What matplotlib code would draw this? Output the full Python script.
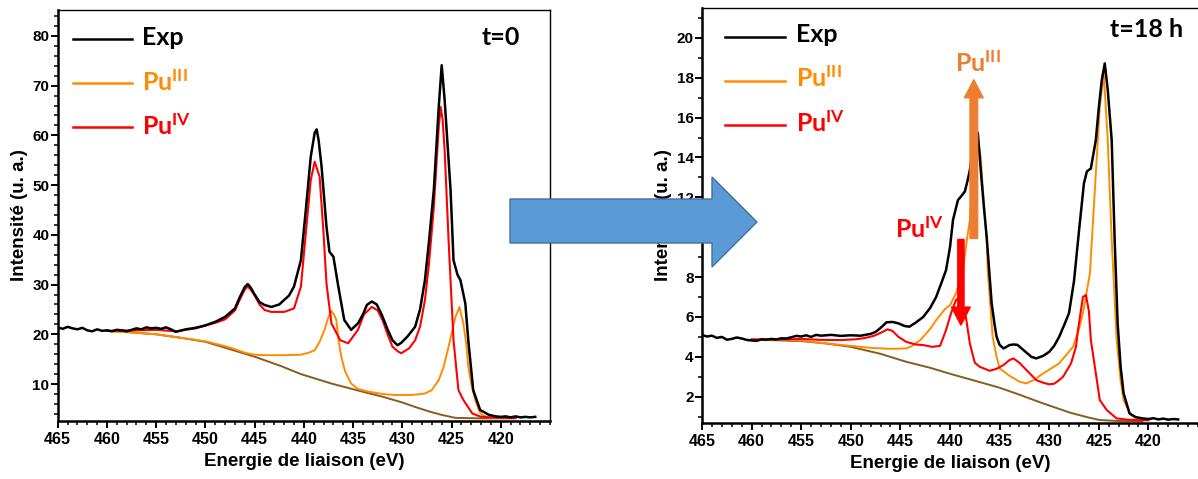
import matplotlib
matplotlib.use("Agg")
import matplotlib.pyplot as plt
from matplotlib.patches import Polygon
from matplotlib.ticker import MultipleLocator

# =====================================================
# 1) DONNEES (lues sur la figure)
# =====================================================

# --- t = 0 ---
E_exp_t0 = [465, 464.5, 464, 463.5, 463, 462.5, 462, 461.5, 461, 460.5, 460, 459.5, 459,
            458.5, 458, 457.5, 457, 456.5, 456, 455.5, 455, 454.5, 454, 453.5, 453,
            452, 451, 450, 449, 448, 447, 446.5, 446, 445.7, 445.4, 445, 444.5, 444,
            443.3, 442.5, 442, 441.5, 441, 440.3, 439.8, 439.3, 438.9, 438.7, 438.5,
            438.2, 437.7, 437.4, 437.0, 436.5, 435.9, 435.2, 434.5, 434.0, 433.6,
            433.1, 432.6, 432.1, 431.5, 431.0, 430.5, 430.1, 429.5, 428.7, 428.2,
            427.7, 427.3, 426.8, 426.3, 426.0, 425.7, 425.1, 424.8, 424.4, 424.1,
            423.6, 423.3, 422.8, 422.1, 421.2, 420.5, 420, 419.5, 419, 418.5, 418,
            417.5, 417, 416.5]
I_exp_t0 = [21.4, 21.1, 21.5, 21.2, 21.0, 21.3, 20.8, 20.6, 21.0, 20.7, 20.8, 20.6, 20.9,
            20.8, 20.6, 20.9, 21.2, 21.0, 21.4, 21.2, 21.3, 21.1, 21.4, 21.0, 20.5,
            21.0, 21.3, 21.8, 22.5, 23.5, 25.2, 27.5, 29.5, 30.1, 29.4, 28.0, 26.5, 25.9,
            25.5, 26.0, 26.9, 27.8, 29.6, 34.9, 45.0, 55.7, 60.5, 61.2, 59.0,
            53.7, 41.6, 36.6, 35.6, 29.6, 22.9, 20.9, 22.2, 24.0, 25.9,
            26.6, 26.0, 24.0, 21.0, 18.8, 17.8, 18.3, 19.5, 21.5, 25.0,
            30.9, 38.5, 49.0, 65.7, 74.1, 67.1, 49.0, 34.9, 32.0, 30.9,
            26.2, 18.8, 8.8, 4.8, 3.8, 3.5, 3.4, 3.5, 3.3, 3.5, 3.3,
            3.4, 3.3, 3.4]

E_pu3_t0 = [460, 455, 450, 448, 447, 446, 445, 444, 442, 440.3, 439.5, 438.9, 438.4,
            437.9, 437.5, 437.2, 436.9, 436.7, 436.5, 436.2, 435.8, 435.2, 434.5, 433.5,
            432, 430.8, 429, 427.7, 427, 426.3, 425.8, 425.3, 424.9, 424.6, 424.2,
            423.8, 423.5, 423.3, 423.0, 422.6, 422.2, 421.9, 421.3, 420, 418.5]
I_pu3_t0 = [20.7, 20.0, 18.6, 17.6, 17.0, 16.3, 15.9, 15.8, 15.8, 15.9, 16.3, 16.8, 18.5,
            20.9, 23.5, 24.7, 23.8, 22.9, 19.0, 15.5, 12.5, 10.1, 9.0, 8.5,
            8.0, 7.8, 7.8, 8.1, 8.8, 10.8, 13.5, 17.5, 21.0, 23.5, 25.5,
            22.2, 18.0, 13.5, 10.0, 6.8, 4.6, 3.8, 3.3, 3.2, 3.15]

E_pu4_t0 = [460, 457, 455, 453, 451, 449, 448, 447, 446.5, 446, 445.7, 445.4, 445,
            444.5, 444, 443.3, 442, 441, 440.3, 439.8, 439.3, 438.9, 438.4, 438,
            437.7, 437.2, 436.3, 435.5, 434.5, 433.9, 433.1, 432.5, 432, 431.5, 431,
            430.4, 430.1, 429.3, 428.7, 428.2, 427.7, 427.3, 426.8, 426.3, 426.1,
            425.9, 425.7, 425.3, 424.8, 424.3, 423.8, 422.9, 422, 420, 418.5]
I_pu4_t0 = [20.7, 20.8, 20.9, 20.6, 21.2, 22.3, 23.0, 24.8, 27.0, 29.0, 29.6, 29.0, 27.8,
            26.0, 24.9, 24.5, 24.5, 25.2, 29.6, 40.3, 51.0, 54.7, 51.7, 40.3,
            30.2, 22.2, 18.8, 18.2, 20.9, 24.0, 25.5, 24.8, 22.8, 20.0, 17.5,
            16.5, 16.2, 17.2, 18.8, 21.5, 26.9, 34.0, 45.6, 61.7, 65.7,
            63.0, 57.0, 38.9, 18.8, 8.8, 6.8, 4.1, 3.4, 3.2, 3.2]

E_bg_t0 = [460, 457.5, 455, 452.5, 450, 447.5, 445, 442.3, 440.3, 437.2, 434.5, 432.1,
           430, 428.7, 427.3, 426, 424.6, 422, 418.5]
I_bg_t0 = [20.7, 20.4, 20.0, 19.3, 18.5, 17.0, 15.5, 13.6, 12.0, 10.1, 8.7, 7.5,
           6.3, 5.4, 4.5, 3.8, 3.2, 3.1, 3.1]

# --- t = 18 h ---
E_exp_t18 = [465, 464.5, 464, 463.5, 463, 462.5, 462, 461.5, 461, 460.5, 460, 459.5, 459,
             458.5, 458, 457.5, 457, 456.5, 456, 455.5, 455, 454.5, 454, 453.5, 453,
             452, 451, 450, 449, 448, 447.5, 447, 446.4, 445.8, 445.2, 444.6, 444.1,
             443.5, 442.7, 442, 441.4, 440.8, 440.4, 440, 439.7, 439.2, 438.8, 438.5,
             438.2, 438.0, 437.7, 437.4, 437.2, 436.9, 436.6, 436.3, 436.0, 435.8,
             435.5, 435.3, 435.0, 434.6, 434.0, 433.6, 433.2, 432.5, 431.8, 431.3,
             430.6, 430.0, 429.5, 429.0, 428.4, 428.0, 427.5, 427.0, 426.5, 426.2,
             425.8, 425.3, 425.0, 424.7, 424.4, 424.1, 423.7, 423.4, 423.1, 422.8,
             422.5, 421.9, 421.3, 420.6, 420, 419.5, 419, 418.5, 418, 417.5, 417]
I_exp_t18 = [5.10, 5.02, 5.06, 4.95, 5.0, 4.86, 4.9, 4.97, 4.92, 4.85, 4.82, 4.8, 4.88,
             4.86, 4.9, 4.87, 4.93, 4.92, 4.98, 5.05, 5.02, 5.08, 5.0, 5.1, 5.06,
             5.1, 5.05, 5.08, 5.06, 5.15, 5.25, 5.45, 5.73, 5.75, 5.68, 5.55, 5.51,
             5.7, 6.0, 6.45, 7.0, 7.8, 8.35, 9.5, 10.86, 11.86, 12.1, 12.3,
             12.9, 13.37, 14.4, 15.1, 15.25, 13.37, 11.6, 10.0, 8.0, 6.68,
             5.6, 5.0, 4.6, 4.42, 4.59, 4.62, 4.6, 4.3, 4.0, 3.92,
             4.05, 4.25, 4.55, 5.0, 5.7, 6.2, 7.8, 10.3, 12.7, 13.3,
             13.45, 14.87, 16.5, 17.88, 18.72, 17.4, 14.87, 9.86, 5.68, 3.5,
             2.17, 1.16, 0.98, 0.91, 0.88, 0.92, 0.86, 0.9, 0.85, 0.88, 0.86]

E_pu3_t18 = [460, 458, 456, 455, 453, 451, 450, 448, 446, 444.4, 443.8, 443, 442, 441.4,
             440.5, 440, 439.4, 438.7, 438.3, 438, 437.7, 437.5, 437.2, 436.9, 436.7,
             436.3, 436.2, 435.7, 435.3, 435.0, 434.0, 433.0, 432.3, 431.5, 430.6,
             429.0, 427.6, 427.0, 426.6, 425.9, 425.4, 424.9, 424.5, 424.1, 423.7,
             423.2, 422.8, 422.5, 421.8, 421.2, 420.5, 420]
I_pu3_t18 = [4.87, 4.87, 4.85, 4.82, 4.7, 4.6, 4.55, 4.45, 4.4, 4.42, 4.55, 4.84, 5.4, 5.84,
             6.4, 6.59, 7.18, 8.35, 9.86, 10.86, 13.0, 14.2, 15.0, 14.0, 12.5,
             9.86, 8.35, 5.0, 4.0, 3.42, 3.05, 2.75, 2.67, 2.85, 3.17,
             3.67, 4.5, 5.4, 6.18, 8.18, 12.36, 16.54, 18.2, 14.87, 9.86,
             4.84, 2.8, 1.83, 1.1, 0.9, 0.85, 0.83]

E_pu4_t18 = [460, 458, 456, 455, 453, 451, 449.5, 448.5, 447.7, 447, 446.3, 445.8, 445.2,
             444.4, 443.5, 442.7, 441.8, 441.0, 440.4, 439.9, 439.4, 439.1, 438.8, 438.4,
             438.0, 437.5, 437.0, 436.0, 435.3, 434.6, 434.0, 433.6, 433.0, 432.3,
             431.3, 430.6, 430.0, 429.5, 429.0, 428.6, 427.8, 427.3, 427.1, 426.6,
             426.3, 426.0, 425.8, 425.3, 424.9, 424.2, 423.2, 422, 421, 420]
I_pu4_t18 = [4.87, 4.87, 4.88, 4.9, 4.85, 4.84, 4.88, 4.95, 5.05, 5.2, 5.38, 5.3, 5.0,
             4.75, 4.62, 4.59, 4.5, 4.55, 5.34, 6.18, 6.85, 6.95, 6.7, 6.0,
             4.67, 3.7, 3.5, 3.3, 3.4, 3.59, 3.84, 3.92, 3.7, 3.34,
             2.83, 2.7, 2.62, 2.65, 2.83, 3.0, 3.67, 4.5, 5.34, 7.0,
             7.1, 6.3, 4.84, 3.17, 1.83, 1.33, 0.91, 0.84, 0.82, 0.82]

E_bg_t18 = [460, 457.5, 455, 452.5, 450, 447, 444.4, 442, 440, 437.7, 435, 433, 430.6,
            427.9, 426, 424.9, 423, 421, 420.6]
I_bg_t18 = [4.87, 4.83, 4.79, 4.67, 4.5, 4.15, 3.75, 3.45, 3.15, 2.83, 2.45, 2.1, 1.66,
            1.2, 0.95, 0.83, 0.78, 0.77, 0.77]

# Fleches d'annotation (x, y_depart, y_arrivee) en eV / u. a.
FLECHE_PU3 = (437.6, 9.94, 17.9)
FLECHE_PU4 = (438.9, 9.89, 5.59)

XTICKS = [465, 460, 455, 450, 445, 440, 435, 430, 425, 420]

# =====================================================
# 2) STYLE
# =====================================================

plt.rcParams["font.family"] = ["Liberation Sans", "DejaVu Sans"]
plt.rcParams["font.weight"] = "bold"
plt.rcParams["mathtext.fontset"] = "custom"
plt.rcParams["mathtext.rm"] = "Lato:bold"
plt.rcParams["mathtext.it"] = "Lato:bold"
plt.rcParams["mathtext.bf"] = "Lato:bold"

C_EXP = "#000000"
C_PU3 = "#FF8C00"
C_PU4 = "#FF0000"
C_BG = "#8B5A1E"
C_FLECHE_PU3 = "#ED7D31"
FONT_TXT = "Lato"

W, H = 1198, 479


def axes_px(left, top, right, bottom):
    # boite en pixels (origine en haut a gauche) -> fractions de figure
    return [left / W, 1 - bottom / H, (right - left) / W, (bottom - top) / H]


def style_axes(ax, ylim, y_major, y_minor):
    ax.set_xlim(465, 415)
    ax.set_ylim(*ylim)
    ax.set_xticks(XTICKS)
    ax.xaxis.set_minor_locator(MultipleLocator(1))
    ax.yaxis.set_major_locator(MultipleLocator(y_major))
    ax.yaxis.set_minor_locator(MultipleLocator(y_minor))
    ax.tick_params(which="major", direction="out", length=5, width=1.4, top=False, right=False)
    ax.tick_params(which="minor", direction="out", length=3, width=1.1, top=False, right=False)
    ax.tick_params(axis="x", labelsize=11.5, pad=3)
    ax.tick_params(axis="y", labelsize=11, pad=1)
    for lab in ax.get_xticklabels() + ax.get_yticklabels():
        lab.set_fontweight("bold")
    ax.spines["left"].set_linewidth(1.8)
    ax.spines["bottom"].set_linewidth(1.8)
    ax.spines["top"].set_linewidth(1.0)
    ax.spines["right"].set_linewidth(1.0)
    ax.set_xlabel("Energie de liaison (eV)", fontsize=13.5, fontweight="bold")
    ax.set_ylabel("Intensité (u. a.)", fontsize=13.5, fontweight="bold")
    ax.xaxis.set_label_coords(0.5, -0.077)
    ax.yaxis.set_label_coords(-0.061, 0.5)


def tracer(ax, E_exp, I_exp, E3, I3, E4, I4, Eb, Ib):
    ax.plot(Eb, Ib, color=C_BG, lw=1.4, zorder=2)
    ax.plot(E3, I3, color=C_PU3, lw=1.4, zorder=3)
    ax.plot(E4, I4, color=C_PU4, lw=1.5, zorder=4)
    ax.plot(E_exp, I_exp, color=C_EXP, lw=1.8, zorder=5)


def legende(ax, x0, x1, x_txt, y_lignes, y_textes):
    labels = ["Exp", r"Pu$^{\mathrm{III}}$", r"Pu$^{\mathrm{IV}}$"]
    couleurs = [C_EXP, C_PU3, C_PU4]
    for lab, c, yl, yt in zip(labels, couleurs, y_lignes, y_textes):
        ax.plot([x0, x1], [yl, yl], color=c, lw=1.8, transform=ax.transAxes, zorder=6)
        ax.text(x_txt, yt, lab, color=c, transform=ax.transAxes, fontsize=18,
                fontweight="bold", family=FONT_TXT, va="baseline", ha="left")


# =====================================================
# 3) FIGURE
# =====================================================

fig = plt.figure(figsize=(W / 100, H / 100), dpi=100)

ax1 = fig.add_axes(axes_px(57.7, 10, 550, 421))
ax2 = fig.add_axes(axes_px(702, 8, 1198, 423))

tracer(ax1, E_exp_t0, I_exp_t0, E_pu3_t0, I_pu3_t0, E_pu4_t0, I_pu4_t0, E_bg_t0, I_bg_t0)
style_axes(ax1, (2.57, 85.2), 10, 2)
legende(ax1, 0.031, 0.151, 0.172, [0.929, 0.823, 0.716], [0.915, 0.804, 0.696])
ax1.text(0.861, 0.915, "t=0", transform=ax1.transAxes, fontsize=18, fontweight="bold",
         family=FONT_TXT, va="baseline", ha="left")

tracer(ax2, E_exp_t18, I_exp_t18, E_pu3_t18, I_pu3_t18, E_pu4_t18, I_pu4_t18, E_bg_t18, I_bg_t18)
style_axes(ax2, (0.68, 21.5), 2, 1)
ax2.spines["right"].set_visible(False)
legende(ax2, 0.046, 0.167, 0.189, [0.929, 0.825, 0.718], [0.919, 0.809, 0.702])
ax2.text(0.823, 0.929, "t=18 h", transform=ax2.transAxes, fontsize=18, fontweight="bold",
         family=FONT_TXT, va="baseline", ha="left")

# annotations Pu III / Pu IV
ax2.text(0.510, 0.8465, r"Pu$^{\mathrm{III}}$", transform=ax2.transAxes, color=C_FLECHE_PU3,
         fontsize=18, fontweight="bold", family=FONT_TXT, va="baseline", ha="left", zorder=8)
ax2.text(0.389, 0.445, r"Pu$^{\mathrm{IV}}$", transform=ax2.transAxes, color=C_PU4,
         fontsize=18, fontweight="bold", family=FONT_TXT, va="baseline", ha="left", zorder=8)

x, y0, y1 = FLECHE_PU3
ax2.annotate("", xy=(x, y1), xytext=(x, y0),
             arrowprops=dict(arrowstyle="simple,head_length=1.3,head_width=1.35,tail_width=0.55",
                             color=C_FLECHE_PU3, shrinkA=0, shrinkB=0, mutation_scale=10),
             zorder=7)
x, y0, y1 = FLECHE_PU4
ax2.annotate("", xy=(x, y1), xytext=(x, y0),
             arrowprops=dict(arrowstyle="simple,head_length=1.3,head_width=1.35,tail_width=0.45",
                             color=C_PU4, shrinkA=0, shrinkB=0, mutation_scale=10),
             zorder=7)

# grosse fleche bleue entre les deux panneaux
fleche_px = [(510, 199), (712, 199), (712, 177), (757, 222), (712, 267), (712, 243), (510, 243)]
fleche = Polygon([(px / W, 1 - py / H) for px, py in fleche_px], closed=True,
                 transform=fig.transFigure, facecolor="#5B9BD5", edgecolor="#41719C",
                 lw=1.0, zorder=10)
fig.patches.append(fleche)

fig.savefig("out.png", dpi=100)
